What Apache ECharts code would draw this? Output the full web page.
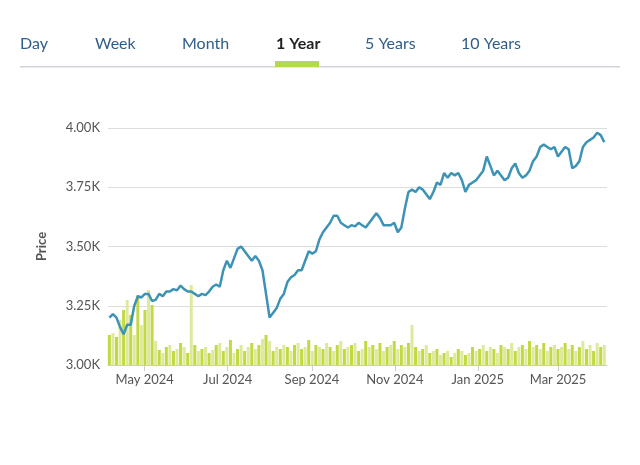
<!DOCTYPE html>
<html><head><meta charset="utf-8">
<script src="https://cdn.jsdelivr.net/npm/echarts@6/dist/echarts.min.js"></script>
<style>html,body{margin:0;background:#fff}#c{width:640px;height:465px}</style>
</head><body><div id="c"></div>
<script>
const tabs = ["Day","Week","Month","1 Year","5 Years","10 Years"];
const yTicks = [3000,3250,3500,3750,4000];
const prices = [3200,3215,3200,3160,3130,3170,3170,3250,3290,3285,3300,3300,3270,3275,3300,3290,3310,3310,3320,3315,3335,3320,3310,3310,3300,3290,3300,3295,3310,3330,3340,3330,3400,3440,3410,3450,3490,3500,3480,3460,3440,3460,3440,3400,3300,3200,3220,3240,3280,3300,3350,3370,3380,3400,3400,3440,3480,3470,3480,3530,3560,3580,3600,3630,3630,3600,3590,3580,3590,3585,3600,3590,3580,3600,3620,3640,3620,3590,3590,3590,3600,3560,3580,3660,3730,3740,3730,3750,3740,3720,3700,3730,3770,3760,3810,3790,3810,3800,3810,3780,3730,3760,3770,3780,3800,3820,3880,3840,3800,3820,3800,3780,3790,3830,3850,3810,3790,3800,3820,3860,3880,3920,3930,3920,3910,3920,3880,3900,3920,3910,3830,3840,3860,3920,3940,3950,3960,3980,3970,3940];
const volumes = [30,32,28,45,55,65,50,30,70,40,55,75,60,24,15,12,18,20,14,16,22,18,12,80,20,14,16,18,12,15,20,22,14,18,25,12,16,20,14,18,22,16,20,26,30,24,14,18,16,20,18,14,20,22,16,18,25,14,20,18,16,22,18,14,20,24,16,18,20,22,14,16,24,18,20,16,22,14,18,20,24,16,20,18,22,40,18,14,16,20,12,14,16,10,12,14,8,12,16,14,10,12,18,14,16,20,14,18,16,12,20,18,16,22,14,18,20,16,24,18,20,16,22,14,18,20,16,18,22,16,20,14,18,24,16,20,14,22,18,20];
const xTickDates = ["2024-05-01","2024-07-01","2024-09-01","2024-11-01","2025-01-01","2025-03-01"];
const xTickLabels = ["May 2024","Jul 2024","Sep 2024","Nov 2024","Jan 2025","Mar 2025"];

const t0 = Date.UTC(2024,3,5), t1 = Date.UTC(2025,3,4);
const n = prices.length;
const dates = prices.map((_,i)=> t0 + (t1-t0)*i/(n-1));
const priceData = prices.map((v,i)=>[dates[i],v]);
const volData = volumes.map((v,i)=>({value:[dates[i],v],itemStyle:{color:i%2?'#dde99f':'#c3d843'}}));
const tickVals = xTickDates.map(d=>Date.parse(d));
const tabX = [20,95,182,276,365,461];
const font = 'Lato, "Open Sans", sans-serif';
const chart = echarts.init(document.getElementById('c'));
chart.setOption({
  animation:false,
  graphic:[
    ...tabs.map((t,i)=>({type:'text',left:tabX[i],top:36,style:{text:t,font:(i===3?'bold ':'')+'16px '+font,fill:i===3?'#222':'#2f5d8a'}})),
    {type:'rect',shape:{x:20,y:66,width:600,height:1.5},style:{fill:'#d0d4dc'}},
    {type:'rect',shape:{x:275,y:61,width:44,height:6},style:{fill:'#b3d94f'}}
  ],
  grid:{left:108,right:33,top:128,bottom:100},
  xAxis:{type:'value',min:t0-86400000,max:t1+86400000*2,
    axisLine:{lineStyle:{color:'#ccc'}},
    axisTick:{show:true,lineStyle:{color:'#ccc'},length:6,customValues:tickVals},
    axisLabel:{color:'#555',fontSize:13,fontFamily:font,customValues:tickVals,
      formatter:v=>{const k=tickVals.indexOf(v);return k>=0?xTickLabels[k]:'';}},
    splitLine:{show:false}},
  yAxis:[{type:'value',min:3000,max:4000,interval:250,name:'Price',nameLocation:'middle',nameGap:60,nameRotate:90,
    nameTextStyle:{color:'#555',fontWeight:'bold',fontSize:13,fontFamily:font},
    axisLabel:{color:'#555',fontSize:13,fontFamily:font,formatter:v=>(v/1000).toFixed(2)+'K'},
    axisLine:{show:false},axisTick:{show:false},splitLine:{lineStyle:{color:'#ddd'}}},
    {type:'value',min:0,max:237,show:false,splitLine:{show:false}}],
  series:[
    {type:'bar',yAxisIndex:1,data:volData,barWidth:3,z:1},
    {type:'line',data:priceData,showSymbol:false,lineStyle:{color:'#3c93b5',width:2.5},itemStyle:{color:'#3c93b5'},z:3}
  ]
});
</script></body></html>
